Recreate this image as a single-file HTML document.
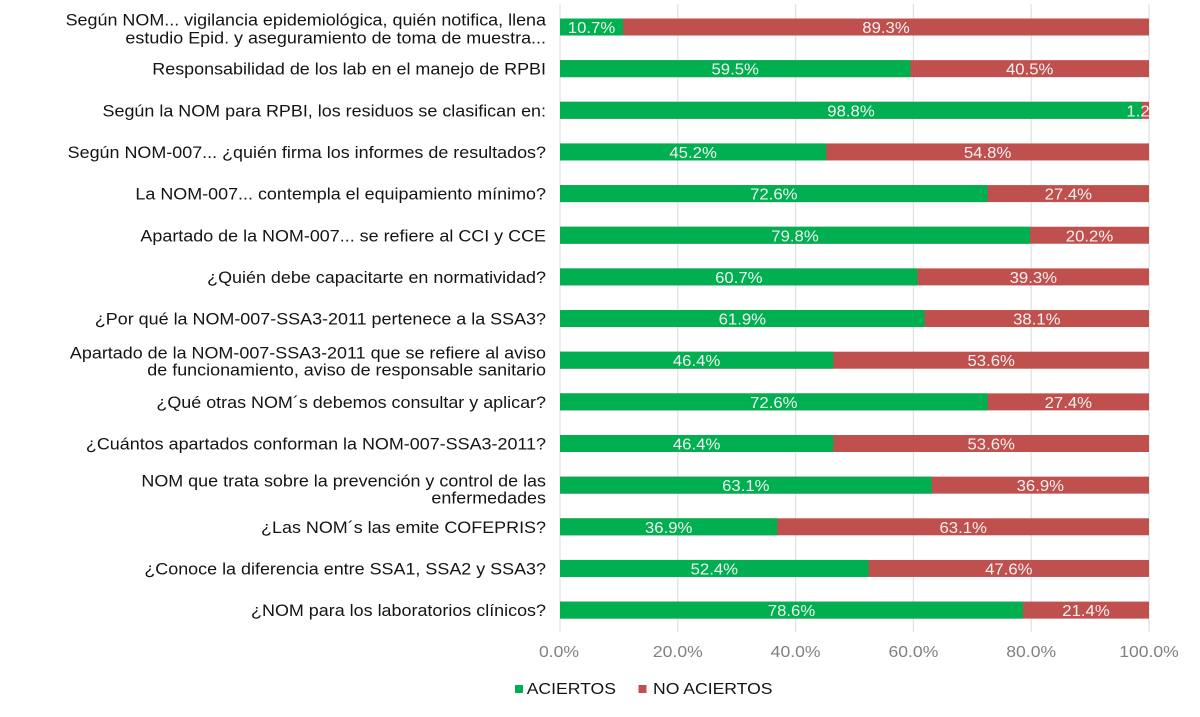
<!DOCTYPE html>
<html><head><meta charset="utf-8"><style>
html,body{margin:0;padding:0;background:#fff;}
svg{display:block;}
text{font-family:"Liberation Sans",Arial,sans-serif;}
.cl{font-size:17px;fill:#141414;}
.bl{font-size:15.5px;fill:#f2f2f2;}
.tk{font-size:16px;fill:#808080;}
.lg{font-size:16px;fill:#141414;}
</style></head><body>
<svg width="1200" height="717" viewBox="0 0 1200 717" xmlns="http://www.w3.org/2000/svg">
<rect width="1200" height="717" fill="#fff"/>
<defs><clipPath id="pa"><rect x="555" y="0" width="595" height="640"/></clipPath></defs>
<g stroke="#e2e2e2" stroke-width="1.3">
<line x1="560" y1="4" x2="560" y2="632"/>
<line x1="677.8" y1="4" x2="677.8" y2="632"/>
<line x1="795.6" y1="4" x2="795.6" y2="632"/>
<line x1="913.4" y1="4" x2="913.4" y2="632"/>
<line x1="1031.2" y1="4" x2="1031.2" y2="632"/>
<line x1="1149" y1="4" x2="1149" y2="632"/>
</g>
<g fill="#c0504d">
<rect x="560" y="18.5" width="589" height="17"/>
<rect x="560" y="60.15" width="589" height="17"/>
<rect x="560" y="101.8" width="589" height="17"/>
<rect x="560" y="143.45" width="589" height="17"/>
<rect x="560" y="185.1" width="589" height="17"/>
<rect x="560" y="226.75" width="589" height="17"/>
<rect x="560" y="268.4" width="589" height="17"/>
<rect x="560" y="310.05" width="589" height="17"/>
<rect x="560" y="351.7" width="589" height="17"/>
<rect x="560" y="393.35" width="589" height="17"/>
<rect x="560" y="435" width="589" height="17"/>
<rect x="560" y="476.65" width="589" height="17"/>
<rect x="560" y="518.3" width="589" height="17"/>
<rect x="560" y="559.95" width="589" height="17"/>
<rect x="560" y="601.6" width="589" height="17"/>
</g>
<g fill="#00b050">
<rect x="560" y="18.5" width="63.02" height="17"/>
<rect x="560" y="60.15" width="350.46" height="17"/>
<rect x="560" y="101.8" width="581.93" height="17"/>
<rect x="560" y="143.45" width="266.23" height="17"/>
<rect x="560" y="185.1" width="427.61" height="17"/>
<rect x="560" y="226.75" width="470.02" height="17"/>
<rect x="560" y="268.4" width="357.52" height="17"/>
<rect x="560" y="310.05" width="364.59" height="17"/>
<rect x="560" y="351.7" width="273.3" height="17"/>
<rect x="560" y="393.35" width="427.61" height="17"/>
<rect x="560" y="435" width="273.3" height="17"/>
<rect x="560" y="476.65" width="371.66" height="17"/>
<rect x="560" y="518.3" width="217.34" height="17"/>
<rect x="560" y="559.95" width="308.64" height="17"/>
<rect x="560" y="601.6" width="462.95" height="17"/>
</g>
<g class="bl" text-anchor="middle" clip-path="url(#pa)">
<text transform="translate(591.5,33) scale(1.08,1)">10.7%</text>
<text transform="translate(886,33) scale(1.08,1)">89.3%</text>
<text transform="translate(735.2,74.65) scale(1.08,1)">59.5%</text>
<text transform="translate(1029.7,74.65) scale(1.08,1)">40.5%</text>
<text transform="translate(851,116.3) scale(1.08,1)">98.8%</text>
<text transform="translate(1145.5,116.3) scale(1.08,1)">1.2%</text>
<text transform="translate(693.1,157.95) scale(1.08,1)">45.2%</text>
<text transform="translate(987.6,157.95) scale(1.08,1)">54.8%</text>
<text transform="translate(773.8,199.6) scale(1.08,1)">72.6%</text>
<text transform="translate(1068.3,199.6) scale(1.08,1)">27.4%</text>
<text transform="translate(795,241.25) scale(1.08,1)">79.8%</text>
<text transform="translate(1089.5,241.25) scale(1.08,1)">20.2%</text>
<text transform="translate(738.8,282.9) scale(1.08,1)">60.7%</text>
<text transform="translate(1033.3,282.9) scale(1.08,1)">39.3%</text>
<text transform="translate(742.3,324.55) scale(1.08,1)">61.9%</text>
<text transform="translate(1036.8,324.55) scale(1.08,1)">38.1%</text>
<text transform="translate(696.6,366.2) scale(1.08,1)">46.4%</text>
<text transform="translate(991.2,366.2) scale(1.08,1)">53.6%</text>
<text transform="translate(773.8,407.85) scale(1.08,1)">72.6%</text>
<text transform="translate(1068.3,407.85) scale(1.08,1)">27.4%</text>
<text transform="translate(696.6,449.5) scale(1.08,1)">46.4%</text>
<text transform="translate(991.2,449.5) scale(1.08,1)">53.6%</text>
<text transform="translate(745.8,491.15) scale(1.08,1)">63.1%</text>
<text transform="translate(1040.3,491.15) scale(1.08,1)">36.9%</text>
<text transform="translate(668.7,532.8) scale(1.08,1)">36.9%</text>
<text transform="translate(963.2,532.8) scale(1.08,1)">63.1%</text>
<text transform="translate(714.3,574.45) scale(1.08,1)">52.4%</text>
<text transform="translate(1008.8,574.45) scale(1.08,1)">47.6%</text>
<text transform="translate(791.5,616.1) scale(1.08,1)">78.6%</text>
<text transform="translate(1086,616.1) scale(1.08,1)">21.4%</text>
</g>
<g class="cl" text-anchor="end">
<text transform="translate(546,25.7) scale(1.055,1)">Según NOM... vigilancia epidemiológica, quién notifica, llena</text>
<text transform="translate(546,43.3) scale(1.055,1)">estudio Epid. y aseguramiento de toma de muestra...</text>
<text transform="translate(546,74.65) scale(1.055,1)">Responsabilidad de los lab en el manejo de RPBI</text>
<text transform="translate(546,116.3) scale(1.055,1)">Según la NOM para RPBI, los residuos se clasifican en:</text>
<text transform="translate(546,157.95) scale(1.055,1)">Según NOM-007... ¿quién firma los informes de resultados?</text>
<text transform="translate(546,199.6) scale(1.055,1)">La NOM-007... contempla el equipamiento mínimo?</text>
<text transform="translate(546,241.25) scale(1.055,1)">Apartado de la NOM-007... se refiere al CCI y CCE</text>
<text transform="translate(546,282.9) scale(1.055,1)">¿Quién debe capacitarte en normatividad?</text>
<text transform="translate(546,324.55) scale(1.055,1)">¿Por qué la NOM-007-SSA3-2011 pertenece a la SSA3?</text>
<text transform="translate(546,358.3) scale(1.055,1)">Apartado de la NOM-007-SSA3-2011 que se refiere al aviso</text>
<text transform="translate(546,375.5) scale(1.055,1)">de funcionamiento, aviso de responsable sanitario</text>
<text transform="translate(546,407.85) scale(1.055,1)">¿Qué otras NOM´s debemos consultar y aplicar?</text>
<text transform="translate(546,449.5) scale(1.055,1)">¿Cuántos apartados conforman la NOM-007-SSA3-2011?</text>
<text transform="translate(546,486.5) scale(1.055,1)">NOM que trata sobre la prevención y control de las</text>
<text transform="translate(546,503.3) scale(1.055,1)">enfermedades</text>
<text transform="translate(546,532.8) scale(1.055,1)">¿Las NOM´s las emite COFEPRIS?</text>
<text transform="translate(546,574.45) scale(1.055,1)">¿Conoce la diferencia entre SSA1, SSA2 y SSA3?</text>
<text transform="translate(546,616.1) scale(1.055,1)">¿NOM para los laboratorios clínicos?</text>
</g>
<g class="tk" text-anchor="middle">
<text transform="translate(559,657) scale(1.1,1)">0.0%</text>
<text transform="translate(677.8,657) scale(1.1,1)">20.0%</text>
<text transform="translate(795.6,657) scale(1.1,1)">40.0%</text>
<text transform="translate(913.4,657) scale(1.1,1)">60.0%</text>
<text transform="translate(1031.2,657) scale(1.1,1)">80.0%</text>
<text transform="translate(1149,657) scale(1.1,1)">100.0%</text>
</g>
<rect x="515" y="685" width="8" height="8" fill="#00b050"/>
<text class="lg" transform="translate(526.7,694) scale(1.1,1)">ACIERTOS</text>
<rect x="638.5" y="685" width="8" height="8" fill="#c0504d"/>
<text class="lg" transform="translate(653,694) scale(1.1,1)">NO ACIERTOS</text>
</svg>
</body></html>
